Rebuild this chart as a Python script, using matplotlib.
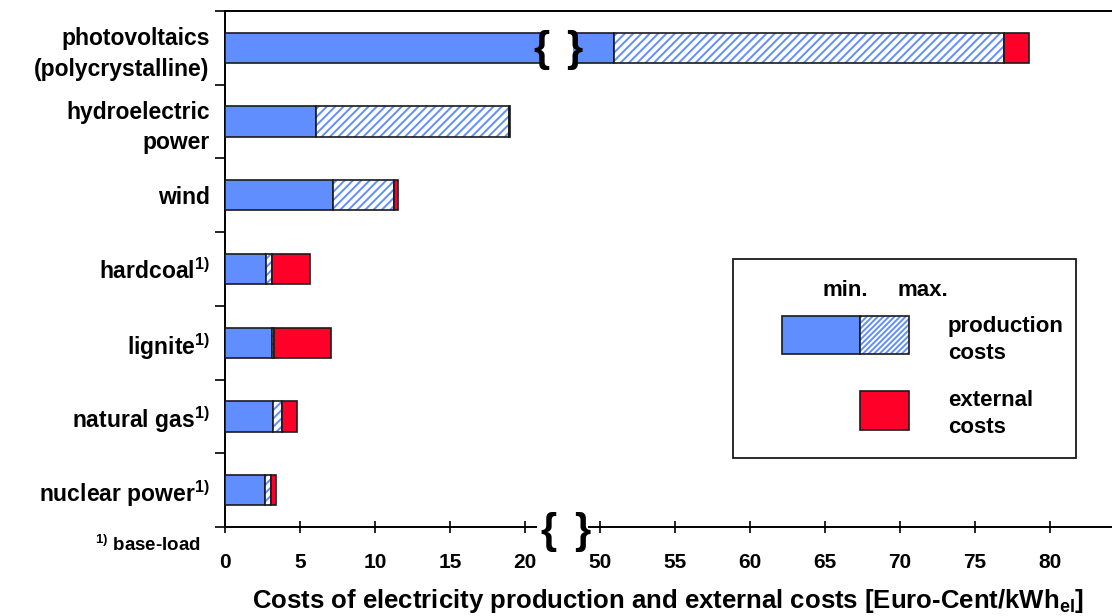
import numpy as np
import matplotlib.pyplot as plt
import matplotlib.transforms as mtransforms
from matplotlib.patches import Rectangle

plt.rcParams['font.family'] = 'Liberation Sans'
plt.rcParams['font.weight'] = 'bold'
plt.rcParams['axes.labelweight'] = 'bold'
plt.rcParams['mathtext.fontset'] = 'custom'
plt.rcParams['mathtext.rm'] = 'Liberation Sans:bold'
plt.rcParams['mathtext.bf'] = 'Liberation Sans:bold'
plt.rcParams['mathtext.default'] = 'bf'
plt.rcParams['hatch.linewidth'] = 1.4

# Data (Euro-Cent/kWh_el)
labels = ['photovoltaics\n(polycrystalline)', 'hydroelectric\npower', 'wind',
          r'hardcoal$^{1)}$', r'lignite$^{1)}$', r'natural gas$^{1)}$',
          r'nuclear power$^{1)}$']
prod_min = [50.9, 6.07, 7.22, 2.73, 3.11, 3.22, 2.67]
prod_max = [76.9, 18.93, 11.29, 3.11, 3.27, 3.80, 3.07]
total = [78.6, 19.0, 11.5, 5.67, 7.04, 4.78, 3.38]
xticks = [0, 5, 10, 15, 20, 50, 55, 60, 65, 70, 75, 80]

BLUE = '#608EFF'
RED = '#FF0028'
EDGE = '#1a1a1a'
W, H = 1112, 616


# broken axis: 22..50 squeezed into 3 units
def fwd(x):
    x = np.asarray(x, float)
    return np.where(x <= 22, x, np.where(x >= 50, x - 25, 22 + (x - 22) * 3 / 28))


def inv(d):
    d = np.asarray(d, float)
    return np.where(d <= 22, d, np.where(d >= 25, d + 25, 22 + (d - 22) * 28 / 3))


fig = plt.figure(figsize=(W / 100, H / 100), dpi=100)
ax = fig.add_axes([225 / W, 1 - 527 / H, (W - 225) / W, (527 - 11) / H])
ax.set_xscale('function', functions=(fwd, inv))

y = np.arange(len(labels))
pmin = np.array(prod_min)
pmax = np.array(prod_max)
tot = np.array(total)
h = 0.41

ax.barh(y, pmin, height=h, color=BLUE, edgecolor=EDGE, linewidth=1.2, zorder=3)
ax.barh(y, pmax - pmin, left=pmin, height=h, color='white', edgecolor=BLUE,
        hatch='////', linewidth=0, zorder=3)
ax.barh(y, pmax - pmin, left=pmin, height=h, fill=False, edgecolor=EDGE,
        linewidth=1.2, zorder=3)
ax.barh(y, tot - pmax, left=pmax, height=h, color=RED, edgecolor=EDGE,
        linewidth=1.2, zorder=3)

# gap in the photovoltaics bar
x0, x1 = float(inv(21.1)), float(inv(23.2))
ax.add_patch(Rectangle((x0, -0.3), x1 - x0, 0.6, facecolor='white',
                       edgecolor='none', zorder=4))
for xb, ch in [(21.07, '{'), (23.25, '}')]:
    ax.text(float(inv(xb)), 0.03, ch, ha='center', va='center', fontsize=30,
            zorder=5)

# gap in the x axis
trans = mtransforms.blended_transform_factory(ax.transData, ax.transAxes)
g0, g1 = float(inv(20.8)), float(inv(24.2))
ax.add_patch(Rectangle((g0, -0.03), g1 - g0, 0.06, transform=trans,
                       facecolor='white', edgecolor='none', zorder=5,
                       clip_on=False))
for xb, ch in [(21.55, '{'), (23.8, '}')]:
    ax.text(float(inv(xb)), -0.01, ch, transform=trans, ha='center',
            va='center', fontsize=30, zorder=6, clip_on=False)

ax.set_xlim(0, float(inv(59.13)))
ax.set_xticks(xticks)
ax.set_xticklabels([str(t) for t in xticks])
ax.tick_params(axis='x', direction='inout', length=8, width=1.2,
               labelsize=15, pad=14.5)

ax.set_ylim(6.5, -0.5)
ax.set_yticks(y)
ax.set_yticklabels(labels, fontsize=16.5, linespacing=1.4)
ax.set_yticks(np.arange(-0.5, 7, 1), minor=True)
ax.tick_params(axis='y', which='major', length=0, pad=11)
ax.tick_params(axis='y', which='minor', direction='out', length=7.5, width=1.2)

for s in ['left', 'bottom', 'top']:
    ax.spines[s].set_linewidth(1.4)
ax.spines['right'].set_visible(False)

ax.set_xlabel(r'Costs of electricity production and external costs [Euro-Cent/kWh$_{el}$]',
              fontsize=18.5, labelpad=11)

# footnote
fig.text(95 / W, 1 - 545 / H, r'$^{1)}$ base-load', fontsize=13.5,
         ha='left', va='center')

# legend box (figure pixel layout)
def rect(xa, ya, xb, yb, **kw):
    fig.patches.append(Rectangle((xa / W, 1 - yb / H), (xb - xa) / W,
                                 (yb - ya) / H, transform=fig.transFigure, **kw))

rect(733, 259, 1076, 458, facecolor='white', edgecolor=EDGE, linewidth=1.3,
     zorder=6)
rect(782, 316, 860, 354, facecolor=BLUE, edgecolor=EDGE, linewidth=1.2, zorder=7)
rect(860, 316, 909, 354, facecolor='white', edgecolor=BLUE, hatch='//////',
     linewidth=0, zorder=7)
rect(860, 316, 909, 354, fill=False, edgecolor=EDGE, linewidth=1.2, zorder=8)
rect(860, 391, 909, 430, facecolor=RED, edgecolor=EDGE, linewidth=1.2, zorder=7)

fig.text(845 / W, 1 - 290 / H, 'min.', fontsize=16, ha='center', va='center',
         zorder=9)
fig.text(923 / W, 1 - 290 / H, 'max.', fontsize=16, ha='center', va='center',
         zorder=9)
fig.text(948 / W, 1 - 340 / H, 'production\ncosts', fontsize=16, ha='left',
         va='center', linespacing=1.35, zorder=9)
fig.text(948 / W, 1 - 414 / H, 'external\ncosts', fontsize=16, ha='left',
         va='center', linespacing=1.35, zorder=9)

fig.savefig('out.png', dpi=100)
